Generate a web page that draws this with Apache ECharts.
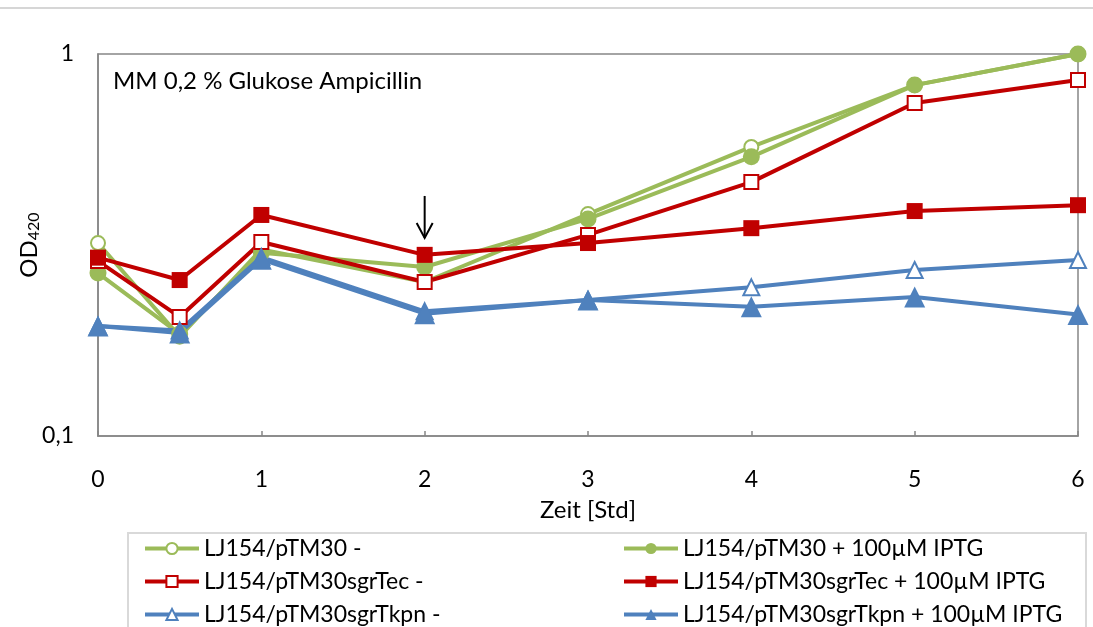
<!DOCTYPE html>
<html>
<head>
<meta charset="utf-8">
<script src="https://cdn.jsdelivr.net/npm/echarts@6/dist/echarts.min.js"></script>
<style>
  html, body { margin: 0; padding: 0; background: #fff; }
  #main { width: 1093px; height: 627px; }
</style>
</head>
<body>
<div id="main"></div>
<script>
// Zeitpunkte [Std]
const zeit = [0, 0.5, 1, 2, 3, 4, 5, 6];
const xTicks = [0, 1, 2, 3, 4, 5, 6];

// OD420 Werte
const pTM30 = [0.32, 0.182, 0.308, 0.253, 0.381, 0.571, 0.829, 1.0];
const pTM30Iptg = [0.267, 0.185, 0.302, 0.277, 0.370, 0.538, 0.829, 1.0];
const sgrTec = [0.287, 0.205, 0.322, 0.253, 0.336, 0.462, 0.744, 0.855];
const sgrTecIptg = [0.293, 0.256, 0.379, 0.298, 0.320, 0.350, 0.388, 0.402];
const sgrTkpn = [0.194, 0.189, 0.294, 0.212, 0.227, 0.245, 0.272, 0.289];
const sgrTkpnIptg = [0.194, 0.186, 0.290, 0.209, 0.227, 0.218, 0.231, 0.208];

const names = [
  'LJ154/pTM30 -', 'LJ154/pTM30 + 100µM IPTG',
  'LJ154/pTM30sgrTec -', 'LJ154/pTM30sgrTec + 100µM IPTG',
  'LJ154/pTM30sgrTkpn -', 'LJ154/pTM30sgrTkpn + 100µM IPTG'
];

const GREEN = '#9BBB59', RED = '#C00000', BLUE = '#4F81BD';
const FONT = 'Lato';
const FS = 24;

// Pfeil bei t = 2 (IPTG Zugabe)
const arrowX = 2, arrowTop = 0.425, arrowBottom = 0.33;

function pts(vals) { return zeit.map((t, i) => [t, vals[i]]); }

function mkSeries(name, vals, color, symbol, size) {
  const empty = symbol.indexOf('empty') === 0;
  return {
    name: name,
    type: 'line',
    data: pts(vals),
    symbol: symbol,
    symbolSize: size,
    showAllSymbol: true,
    lineStyle: { color: color, width: 4 },
    itemStyle: { color: color, borderColor: color, borderWidth: empty ? 3 : 0 },
    emphasis: { disabled: true },
    z: 3
  };
}

const myChart = echarts.init(document.getElementById('main'));

const option = {
  animation: false,
  textStyle: { fontFamily: FONT },
  grid: {
    left: 98, right: 15, top: 54, bottom: 191,
    show: true, borderColor: '#868686', borderWidth: 1.5,
    containLabel: false
  },
  xAxis: {
    type: 'value', min: 0, max: 6, interval: 1,
    name: 'Zeit [Std]', nameLocation: 'middle', nameGap: 62,
    nameTextStyle: { fontSize: 24, color: '#000', fontFamily: FONT },
    axisLine: { lineStyle: { color: '#868686', width: 1.5 } },
    axisTick: { show: true, inside: true, length: 5, lineStyle: { color: '#868686', width: 1.5 } },
    splitLine: { show: false },
    axisLabel: {
      fontSize: 23, color: '#000', margin: 32, fontFamily: FONT,
      formatter: v => xTicks.indexOf(v) >= 0 ? String(v) : ''
    }
  },
  yAxis: {
    type: 'log', min: 0.1, max: 1, logBase: 10,
    name: 'OD{sub|420}', nameLocation: 'middle', nameGap: 56, nameRotate: 90,
    nameMoveOverlap: false,
    nameTextStyle: {
      fontSize: 24, color: '#000', fontFamily: FONT,
      rich: { sub: { fontSize: 16, verticalAlign: 'bottom', padding: [10, 0, 0, 0], fontFamily: FONT } }
    },
    axisLine: { show: true, lineStyle: { color: '#868686', width: 1.5 } },
    axisTick: { show: false },
    splitLine: { show: false },
    minorTick: { show: false },
    axisLabel: {
      fontSize: 23, color: '#000', margin: 24, fontFamily: FONT,
      formatter: v => String(v).replace('.', ',')
    }
  },
  legend: {
    left: 128, top: 533,
    width: 955,
    orient: 'horizontal',
    itemWidth: 54, itemHeight: 14, itemGap: 8,
    padding: [3, 8, 30, 15],
    borderColor: '#d9d9d9', borderWidth: 2,
    lineStyle: { width: 4 },
    textStyle: { fontSize: 23, color: '#000', fontFamily: FONT, lineHeight: 25 },
    data: names.map((n, i) => ({
      name: n,
      textStyle: { width: i % 2 === 0 ? 410 : 395 }
    }))
  },
  graphic: [
    {
      type: 'line', silent: true,
      shape: { x1: 0, y1: 8, x2: 1093, y2: 8 },
      style: { stroke: '#c8c8c8', lineWidth: 1.5 }
    },
    {
      type: 'text', left: 113, top: 69, silent: true,
      style: { text: 'MM 0,2 % Glukose Ampicillin', fontSize: FS, fill: '#000', fontFamily: FONT }
    }
  ],
  series: [
    mkSeries(names[0], pTM30, GREEN, 'emptyCircle', 14),
    mkSeries(names[1], pTM30Iptg, GREEN, 'circle', 17),
    mkSeries(names[2], sgrTec, RED, 'emptyRect', 14),
    mkSeries(names[3], sgrTecIptg, RED, 'rect', 16),
    mkSeries(names[4], sgrTkpn, BLUE, 'emptyTriangle', 16),
    mkSeries(names[5], sgrTkpnIptg, BLUE, 'triangle', 21)
  ]
};

myChart.setOption(option);

// Pfeil über die Achsen positionieren
const pTop = myChart.convertToPixel({ gridIndex: 0 }, [arrowX, arrowTop]);
const pBot = myChart.convertToPixel({ gridIndex: 0 }, [arrowX, arrowBottom]);
myChart.setOption({
  graphic: option.graphic.concat([
    {
      type: 'polyline', silent: true, z: 10,
      shape: { points: [[pTop[0], pTop[1]], [pBot[0], pBot[1]]] },
      style: { stroke: '#000', lineWidth: 2, fill: null }
    },
    {
      type: 'polyline', silent: true, z: 10,
      shape: { points: [[pBot[0] - 8, pBot[1] - 15], [pBot[0], pBot[1]], [pBot[0] + 8, pBot[1] - 15]] },
      style: { stroke: '#000', lineWidth: 2, fill: null }
    }
  ])
});
</script>
</body>
</html>
